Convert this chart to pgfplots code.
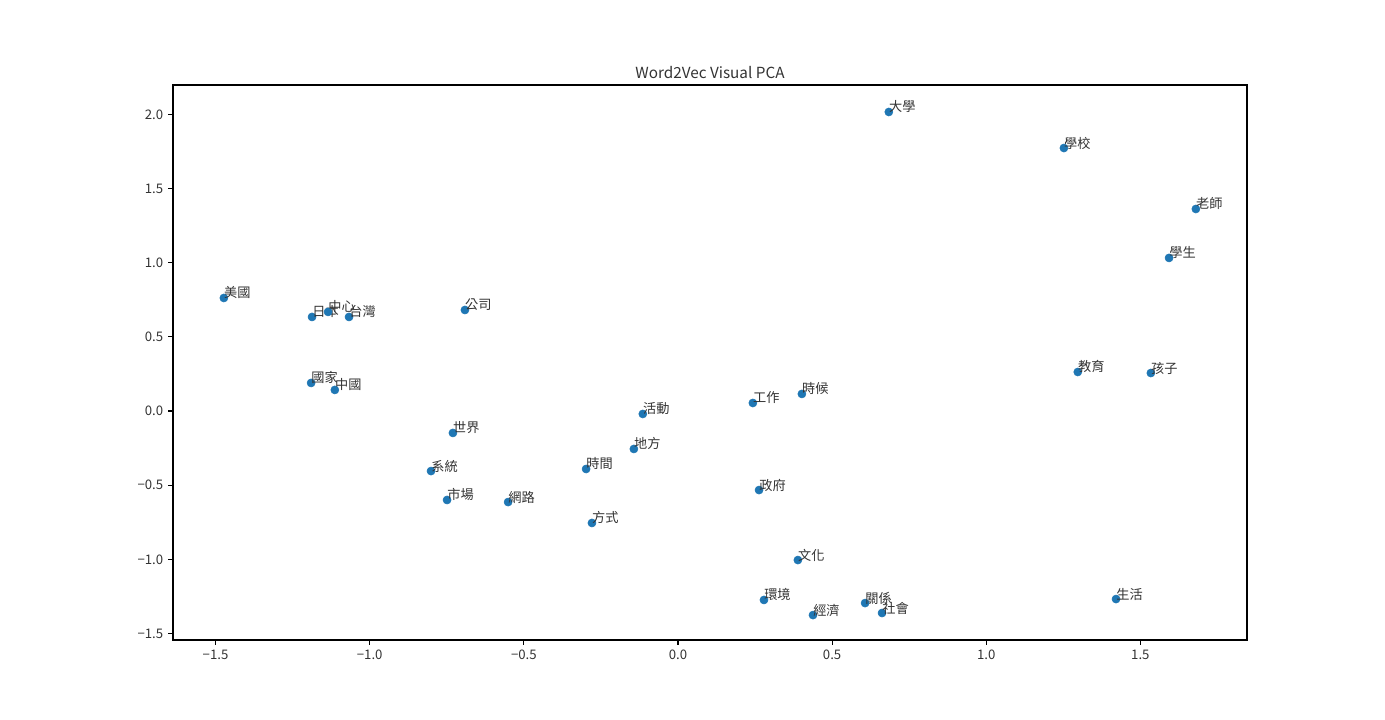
\documentclass[border=0pt]{standalone}
\usepackage{pgfplots}
\pgfplotsset{compat=1.18}
\usepackage{pgfplotstable}
\usepackage{fontspec}
\setmainfont{Noto Sans CJK TC}
\definecolor{mplblue}{HTML}{1F77B4}
\definecolor{txt}{HTML}{333333}
\pgfplotstableread{
x y label
-1.473 0.762 美國
-1.187 0.634 日本
-1.135 0.668 中心
-1.067 0.634 台灣
-1.190 0.189 國家
-1.113 0.142 中國
-0.691 0.681 公司
-0.730 -0.148 世界
-0.801 -0.405 系統
-0.749 -0.600 市場
-0.551 -0.614 網路
-0.298 -0.391 時間
-0.279 -0.755 方式
-0.114 -0.020 活動
-0.143 -0.256 地方
0.243 0.054 工作
0.402 0.115 時候
0.263 -0.533 政府
0.389 -1.005 文化
0.279 -1.274 環境
0.438 -1.376 經濟
0.607 -1.295 關係
0.662 -1.362 社會
0.684 2.016 大學
1.252 1.773 學校
1.680 1.362 老師
1.593 1.032 學生
1.297 0.263 教育
1.534 0.256 孩子
1.421 -1.268 生活
}\pca
\begin{document}
\begin{tikzpicture}
\path[use as bounding box] (0,0) rectangle (997.2pt,518.4pt);
\begin{axis}[
  at={(124.56pt,57.6pt)}, anchor=south west,
  scale only axis, width=773.3pt, height=399.6pt,
  xmin=-1.638, xmax=1.846, ymin=-1.544, ymax=2.198,
  xtick={-1.5,-1,-0.5,0,0.5,1,1.5},
  xticklabels={−1.5,−1.0,−0.5,0.0,0.5,1.0,1.5},
  ytick={-1.5,-1,-0.5,0,0.5,1,1.5,2},
  yticklabels={−1.5,−1.0,−0.5,0.0,0.5,1.0,1.5,2.0},
  tick align=outside, tick pos=left,
  major tick length=3.5pt,
  tick style={black, line width=0.8pt},
  axis line style={black, line width=0.8pt},
  ticklabel style={font=\fontsize{9.5}{11}\selectfont, text=txt},
  title={Word2Vec Visual PCA},
  title style={font=\fontsize{11}{13}\selectfont, text=txt, yshift=-5pt},
  axis background/.style={fill=white},
]
\addplot[only marks, mark=*, mark size=2.9pt, mark options={fill=mplblue, draw=mplblue},
  nodes near coords, point meta=explicit symbolic,
  nodes near coords style={anchor=base west, inner sep=0pt, font=\fontsize{9.5}{11}\selectfont, text=txt}]
  table[x=x, y=y, meta=label] {\pca};
\end{axis}
\end{tikzpicture}
\end{document}
